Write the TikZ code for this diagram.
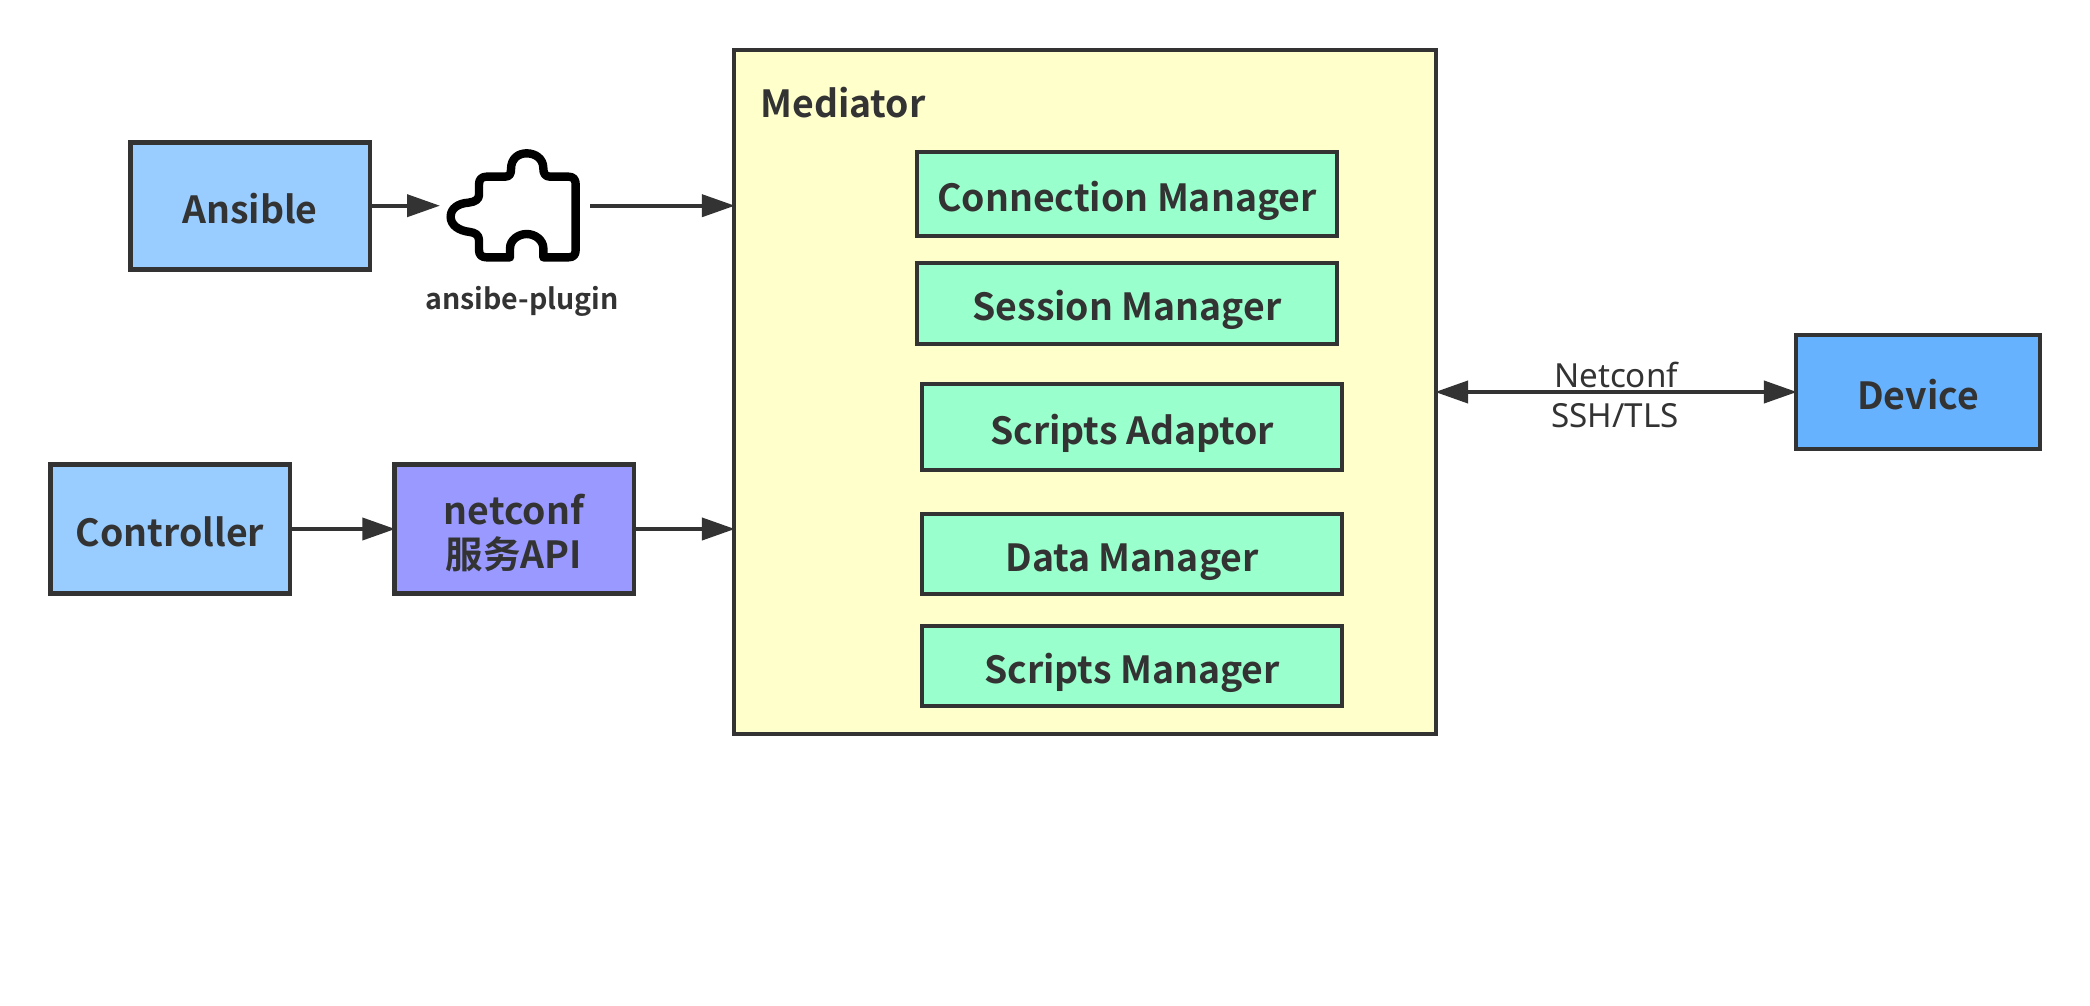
\documentclass[tikz,border=0pt]{standalone}
\usepackage{fontspec}
\setmainfont{Noto Sans}
\newfontfamily\labelbold{Noto Sans CJK SC Bold}
\usetikzlibrary{arrows.meta}
\definecolor{ink}{HTML}{333333}
\definecolor{skyfill}{HTML}{99CCFF}
\definecolor{purplefill}{HTML}{9999FF}
\definecolor{yellowfill}{HTML}{FFFFCC}
\definecolor{greenfill}{HTML}{99FFCC}
\definecolor{devicefill}{HTML}{66B2FF}
\tikzset{
  boxbase/.style={draw=ink,line width=2.1pt,text=ink,font=\fontsize{18.7}{22}\selectfont\labelbold,inner sep=0pt},
  bigbox/.style={boxbase,fill=skyfill,text height=17.5pt,text depth=0pt,minimum width=119.6pt},
  modbox/.style={boxbase,fill=greenfill,text height=17.5pt,text depth=0pt,minimum width=210pt},
  conn/.style={draw=ink,line width=2pt,shorten >=-1.5pt,-{Triangle[length=16.5pt,width=11pt]}},
  biconn/.style={draw=ink,line width=2pt,shorten >=-1.5pt,shorten <=-1.5pt,{Triangle[length=16.5pt,width=11pt]}-{Triangle[length=16.5pt,width=11pt]}},
  plainlabel/.style={text=ink,inner sep=0pt,anchor=base,font=\fontsize{16.6}{18}\selectfont}
}
\begin{document}
\begin{tikzpicture}[x=0.5pt,y=-0.5pt]
\useasboundingbox (0,0) rectangle (2090,1006);
% Mediator
\node[boxbase,fill=yellowfill,minimum width=351pt,minimum height=342pt] (mediator) at (1085,392) {};
\node[text=ink,inner sep=0pt,anchor=base west,font=\fontsize{18.7}{22}\selectfont\labelbold] (medlabel) at (760,117.5) {Mediator};
% modules
\node[modbox,minimum height=42pt] (conman) at (1127,194) {Connection Manager};
\node[modbox,minimum height=40.5pt] (sesman) at (1127,303.5) {Session Manager};
\node[modbox,minimum height=43pt] (adaptor) at (1132,427) {Scripts Adaptor};
\node[modbox,minimum height=40pt] (dataman) at (1132,554) {Data Manager};
\node[modbox,minimum height=40pt] (scriptman) at (1132,666) {Scripts Manager};
% left
\node[bigbox,minimum height=63.5pt] (ansible) at (250,206) {Ansible};
\node[bigbox,minimum height=64.5pt] (controller) at (170,529) {Controller};
\node[boxbase,fill=purplefill,minimum width=119.6pt,minimum height=64.5pt,align=center] (netconf) at (514,529) {\rule{0pt}{19pt}netconf\\服务API};
\node[boxbase,fill=devicefill,text height=17.5pt,text depth=0pt,minimum width=122pt,minimum height=57pt] (device) at (1918,392) {Device};
% plugin icon
\node[inner sep=0pt,outer sep=0pt,minimum width=75.5pt,minimum height=56pt] (plugin) at (514.5,205.7) {};
\begin{scope}[shift={(430,140)},x=0.16667pt,y=-0.16667pt]
\draw[black,line width=4.2pt,line join=round]
  (170,110) -- (225,110) .. controls (240,110) and (243,100) .. (243,88)
  .. controls (243,55) and (265,40) .. (290,40)
  .. controls (315,40) and (340,55) .. (340,85)
  .. controls (340,100) and (345,110) .. (360,110)
  -- (415,110) .. controls (430,110) and (437,118) .. (437,133)
  -- (437,330) .. controls (437,345) and (430,352) .. (415,352)
  -- (340,352) -- (340,325)
  .. controls (340,300) and (315,282) .. (290,282)
  .. controls (265,282) and (240,300) .. (240,325)
  -- (240,352) -- (170,352)
  .. controls (155,352) and (147,345) .. (147,330)
  -- (147,300) .. controls (147,285) and (135,278) .. (120,276)
  .. controls (85,272) and (62,255) .. (62,230)
  .. controls (62,205) and (85,190) .. (115,188)
  .. controls (135,186) and (147,178) .. (147,165)
  -- (147,133) .. controls (147,118) and (155,110) .. (170,110) -- cycle;
\end{scope}
\node[text=ink,inner sep=0pt,anchor=base,font=\fontsize{14.3}{16}\selectfont\labelbold] (pluginlabel) at (522,309) {ansibe-plugin};
% labels
\node[plainlabel] (netconflabel) at (1616,387) {Netconf};
\node[plainlabel] (sshlabel) at (1615,427) {SSH/TLS};
% connectors
\draw[conn,shorten >=-0.5pt] (ansible.east |- plugin.west) -- (plugin.west);
\draw[conn] (plugin.east) -- (plugin.east -| mediator.west);
\draw[conn] (controller) -- (netconf);
\draw[conn] (netconf) -- (netconf -| mediator.west);
\draw[biconn] (mediator.east) -- (device.west);
\end{tikzpicture}
\end{document}
